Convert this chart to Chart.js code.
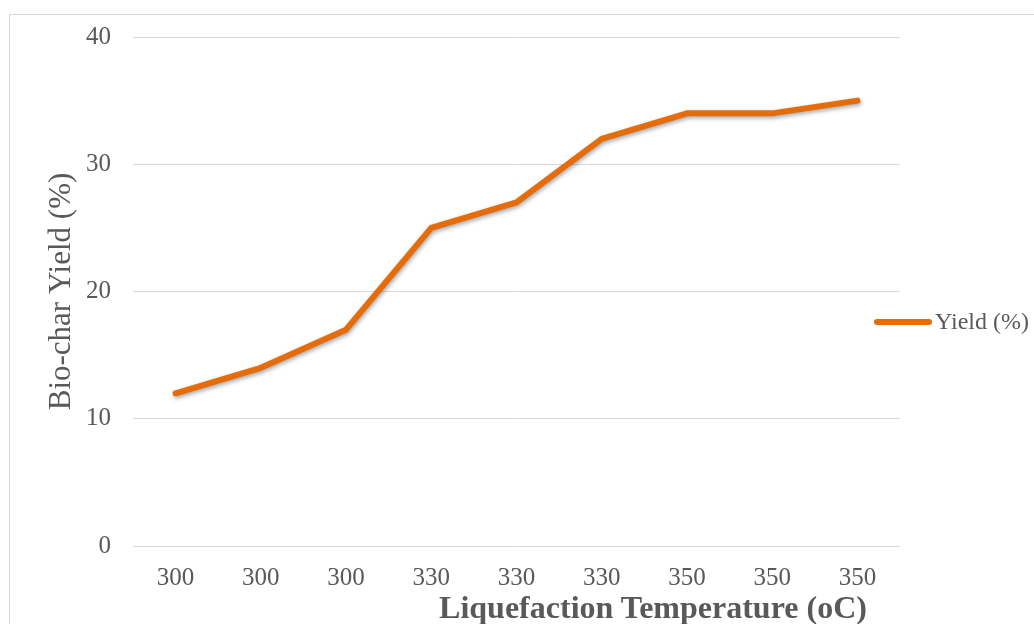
<!DOCTYPE html>
<html>
<head>
<meta charset="utf-8">
<script src="https://cdn.jsdelivr.net/npm/chart.js@4"></script>
<style>
  html, body { margin: 0; padding: 0; background: #fff; overflow: hidden; }
  #wrap { position: relative; width: 1034px; height: 624px; }
  #frame { position: absolute; left: 9px; top: 14px; width: 1100px; height: 700px; border: 1px solid #d9d9d9; box-sizing: border-box; }
  #x-title { position: absolute; left: 653px; top: 589px; transform: translateX(-50%); white-space: nowrap;
    font: bold 32px 'Liberation Serif', serif; color: #595959; }
</style>
</head>
<body>
<div id="wrap">
  <div id="frame"></div>
  <canvas id="my-chart" width="1034" height="624"></canvas>
  <div id="x-title">Liquefaction Temperature (oC)</div>
</div>
<script>
'use strict';
// ***** DATA *****
let temperatures = ['300', '300', '300', '330', '330', '330', '350', '350', '350'];
let yieldValues = [12, 14, 17, 25, 27, 32, 34, 34, 35];
let yTicks = [0, 10, 20, 30, 40];
let seriesLabel = 'Yield (%)';

let lineColor = '#e46c0a';
let textGray = '#595959';

// Soft shadow under the line, like the office chart
let lineShadow = {
  id: 'lineShadow',
  beforeDatasetsDraw(chart) {
    let c = chart.ctx;
    c.save();
    c.shadowColor = 'rgba(0,0,0,0.35)';
    c.shadowBlur = 4;
    c.shadowOffsetX = 1;
    c.shadowOffsetY = 2;
  },
  afterDatasetsDraw(chart) {
    chart.ctx.restore();
  }
};

// Legend sitting to the right, overlapping the grid end a bit
let sideLegend = {
  id: 'sideLegend',
  afterDraw(chart) {
    let c = chart.ctx;
    let ds = chart.data.datasets[0];
    c.save();
    c.strokeStyle = ds.borderColor;
    c.lineWidth = 6;
    c.lineCap = 'round';
    c.beginPath();
    c.moveTo(877, 322);
    c.lineTo(929, 322);
    c.stroke();
    c.fillStyle = textGray;
    c.font = '24px "Liberation Serif", serif';
    c.textBaseline = 'middle';
    c.fillText(ds.label, 935, 323);
    c.restore();
  }
};

let ctx = document.getElementById('my-chart');

new Chart(ctx, {
  type: 'line',
  data: {
    labels: temperatures,
    datasets: [{
      label: seriesLabel,
      data: yieldValues,
      borderColor: lineColor,
      backgroundColor: lineColor,
      borderWidth: 6,
      borderCapStyle: 'round',
      borderJoinStyle: 'round',
      pointRadius: 0,
      tension: 0
    }]
  },
  options: {
    responsive: false,
    animation: false,
    layout: { padding: { top: 34, right: 134, left: 0, bottom: 0 } },
    plugins: {
      legend: { display: false },
      tooltip: { enabled: false }
    },
    scales: {
      x: {
        offset: true,
        grid: { display: false, drawTicks: false },
        border: { display: false },
        ticks: {
          color: textGray,
          padding: 17,
          maxRotation: 0,
          autoSkip: false,
          font: { family: 'Liberation Serif', size: 25 }
        },
        afterFit(s) { s.height = 624 - 546; }
      },
      y: {
        min: 0,
        max: 40,
        afterBuildTicks(s) { s.ticks = yTicks.map(v => ({ value: v })); },
        grid: { color: '#d9d9d9', lineWidth: 1, drawTicks: false },
        border: { display: false },
        ticks: {
          color: textGray,
          padding: 22,
          font: { family: 'Liberation Serif', size: 25 }
        },
        title: {
          display: true,
          text: 'Bio-char Yield (%)',
          color: textGray,
          padding: { top: 43, bottom: 0 },
          font: { family: 'Liberation Serif', size: 31 }
        },
        afterFit(s) { s.width = 133; }
      }
    }
  },
  plugins: [lineShadow, sideLegend]
});
</script>
</body>
</html>
